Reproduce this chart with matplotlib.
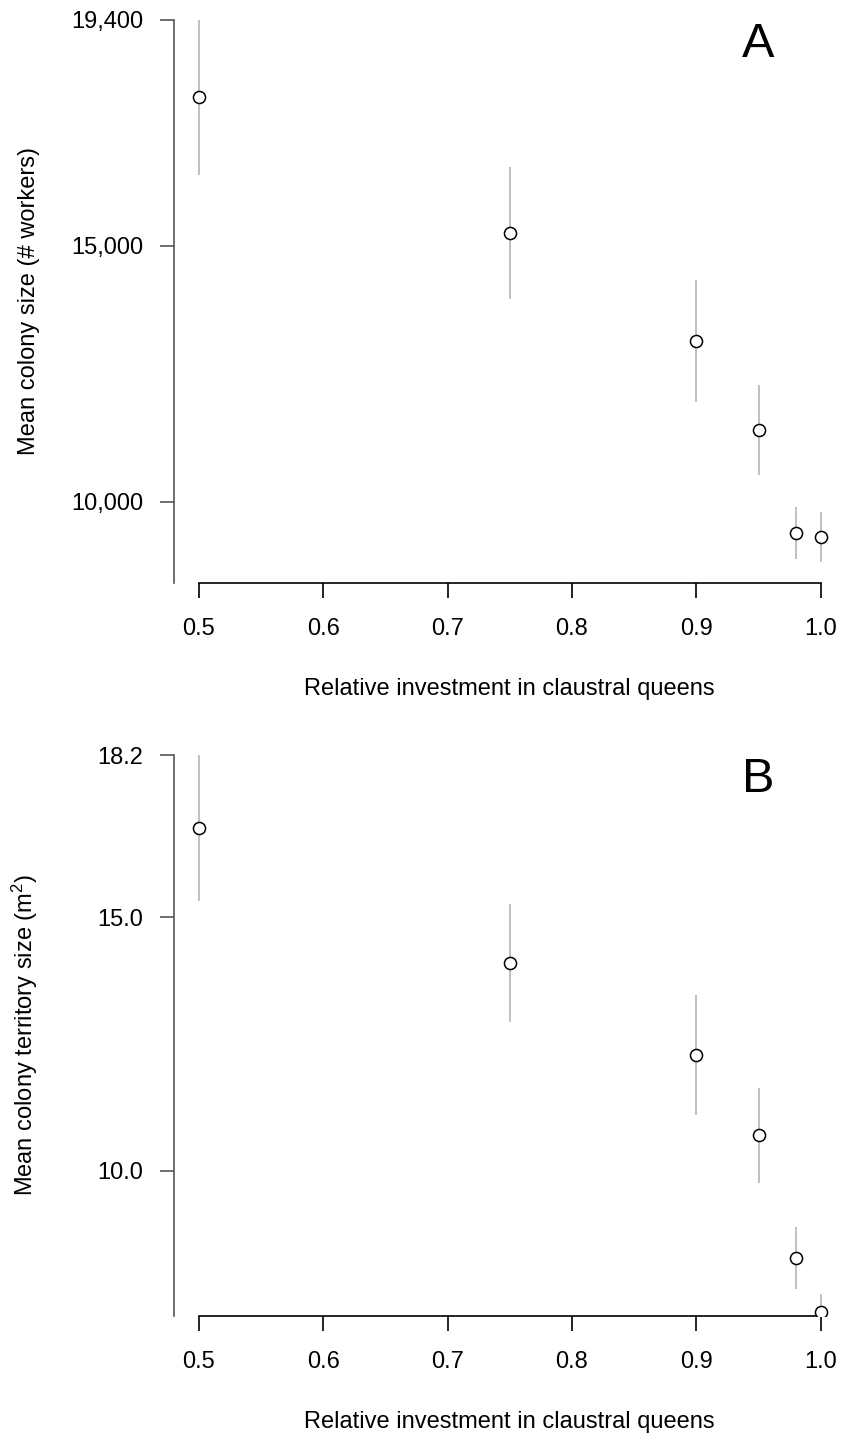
import matplotlib
matplotlib.use("Agg")
import matplotlib.pyplot as plt

# relative investment in claustral queens (x)
investment = [0.5, 0.75, 0.9, 0.95, 0.98, 1.0]

# panel A: mean colony size (# workers) +/- error
colony_size = [17890, 15250, 13145, 11400, 9395, 9315]
colony_size_err = [1510, 1290, 1190, 875, 505, 490]

# panel B: mean colony territory size (m^2) +/- error
territory = [16.76, 14.10, 12.29, 10.70, 8.28, 7.21]
territory_err = [1.44, 1.17, 1.18, 0.94, 0.61, 0.36]

ticks_a = [10000, 15000, 19400]
ticklabels_a = ["10,000", "15,000", "19,400"]
ticks_b = [10.0, 15.0, 18.2]
ticklabels_b = ["10.0", "15.0", "18.2"]
x_ticks = [0.5, 0.6, 0.7, 0.8, 0.9, 1.0]

plt.rcParams.update({
    "font.family": ["Liberation Sans", "DejaVu Sans"],
    "mathtext.fontset": "custom",
    "mathtext.rm": "Liberation Sans",
    "mathtext.it": "Liberation Sans",
})

W, H = 842, 1435
fig = plt.figure(figsize=(W / 100, H / 100), dpi=100)


def px_axes(left, top, right, bottom):
    return fig.add_axes([left / W, 1 - bottom / H, (right - left) / W, (bottom - top) / H])


def draw_panel(ax, y, yerr, ylim, yticks, yticklabels, ylabel, letter):
    ax.errorbar(investment, y, yerr=yerr, fmt="none", ecolor="#c0c0c0",
                elinewidth=1.4, capsize=0, zorder=2)
    ax.plot(investment, y, "o", ms=8.7, mfc="white", mec="black", mew=1.1, zorder=3)
    ax.set_xlim(0.48, 1.02)
    ax.set_ylim(*ylim)

    for s in ("top", "right"):
        ax.spines[s].set_visible(False)
    ax.spines["bottom"].set_bounds(0.5, 1.0)
    ax.spines["bottom"].set_linewidth(1.2)
    ax.spines["left"].set_color("#555555")
    ax.spines["left"].set_linewidth(1.2)

    ax.set_xticks(x_ticks)
    ax.set_xticklabels([f"{t:.1f}" for t in x_ticks])
    ax.set_yticks(yticks)
    ax.set_yticklabels(yticklabels)
    ax.tick_params(axis="x", length=10.5, width=1.2, pad=15, labelsize=17, color="black")
    ax.tick_params(axis="y", length=10, width=1.2, pad=12, labelsize=17, color="#555555")

    ax.set_xlabel("Relative investment in claustral queens", fontsize=17, labelpad=27)
    ax.set_ylabel(ylabel, fontsize=17)
    ax.yaxis.set_label_coords(-0.2, 0.5)
    ax.text(0.87, 0.957, letter, transform=ax.transAxes, fontsize=35,
            ha="center", va="center")


ax_a = px_axes(174, 20, 845.6, 583)
draw_panel(ax_a, colony_size, colony_size_err, (8420, 19400), ticks_a, ticklabels_a,
           "Mean colony size (# workers)", "A")

ax_b = px_axes(174, 755, 845.6, 1316)
draw_panel(ax_b, territory, territory_err, (7.14, 18.2), ticks_b, ticklabels_b,
           "Mean colony territory size (m$^{2}$)", "B")

fig.savefig("out.png", dpi=100)
